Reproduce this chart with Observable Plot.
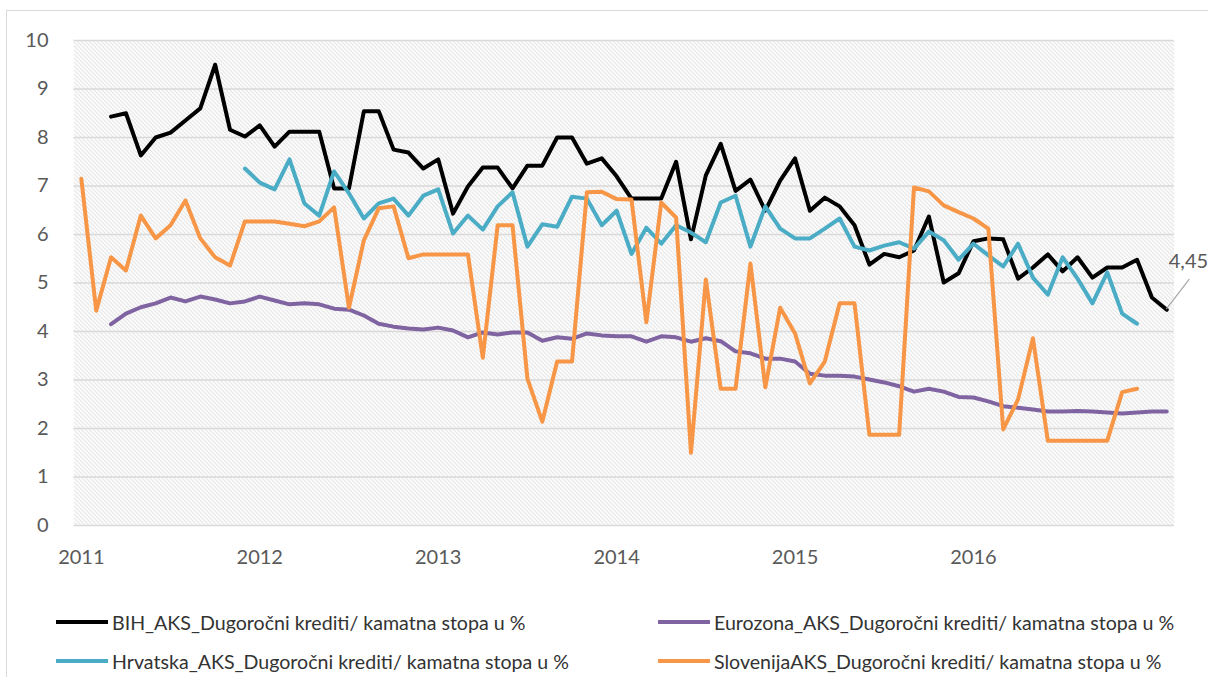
<!DOCTYPE html>
<html>
<head>
<meta charset="utf-8">
<script src="https://cdn.jsdelivr.net/npm/d3@7"></script>
<script src="https://cdn.jsdelivr.net/npm/@observablehq/plot@0.6"></script>
<style>
html, body { margin: 0; padding: 0; background: #fff; }
#wrap { position: relative; width: 1208px; height: 677px; overflow: hidden; font-family: Lato, sans-serif; }
#chart { position: absolute; left: 0; top: 0; }
#border { position: absolute; left: 6px; top: 10px; width: 1400px; height: 900px; border-left: 1px solid #d9d9d9; border-top: 1px solid #d9d9d9; pointer-events: none; }
.leg { position: absolute; height: 24px; display: flex; align-items: center; font-size: 19.6px; color: #333333; white-space: nowrap; }
.sw { width: 52px; height: 4px; margin-right: 4px; }
</style>
</head>
<body>
<div id="wrap">
  <div id="chart"></div>
  <div id="legend"></div>
  <div id="border"></div>
</div>
<script>
// ---- data ----
const startYear = 2011;                       // month index 0 = Jan 2011
const yearLabels = ["2011", "2012", "2013", "2014", "2015", "2016"];
const yTicks = [0, 1, 2, 3, 4, 5, 6, 7, 8, 9, 10];

const seriesNames = [
  "BIH_AKS_Dugoročni krediti/ kamatna stopa u %",
  "Eurozona_AKS_Dugoročni krediti/ kamatna stopa u %",
  "Hrvatska_AKS_Dugoročni krediti/ kamatna stopa u %",
  "SlovenijaAKS_Dugoročni krediti/ kamatna stopa u %"
];
const seriesColors = ["#000000", "#8064a2", "#4bacc6", "#f79646"];

const bih = [null, null, 8.43, 8.5, 7.63, 8.0, 8.1, 8.35, 8.6, 9.5, 8.16, 8.02, 8.25, 7.81, 8.12, 8.12, 8.12, 6.95, 6.95, 8.54, 8.54, 7.75, 7.69, 7.36, 7.55, 6.43, 6.99, 7.38, 7.38, 6.95, 7.42, 7.42, 8.0, 8.0, 7.46, 7.57, 7.2, 6.74, 6.74, 6.74, 7.5, 5.9, 7.22, 7.87, 6.9, 7.13, 6.49, 7.11, 7.57, 6.49, 6.76, 6.58, 6.19, 5.38, 5.6, 5.53, 5.67, 6.37, 5.01, 5.2, 5.86, 5.92, 5.9, 5.09, 5.32, 5.59, 5.24, 5.53, 5.11, 5.32, 5.32, 5.48, 4.7, 4.45];

const eurozona = [null, null, 4.15, 4.37, 4.5, 4.58, 4.7, 4.62, 4.72, 4.66, 4.58, 4.62, 4.72, 4.64, 4.56, 4.58, 4.56, 4.47, 4.45, 4.33, 4.16, 4.1, 4.06, 4.04, 4.08, 4.02, 3.88, 3.98, 3.94, 3.98, 3.98, 3.81, 3.88, 3.85, 3.96, 3.92, 3.9, 3.9, 3.79, 3.9, 3.88, 3.79, 3.86, 3.8, 3.59, 3.55, 3.44, 3.44, 3.38, 3.13, 3.09, 3.09, 3.07, 3.01, 2.95, 2.87, 2.76, 2.82, 2.76, 2.65, 2.64, 2.56, 2.46, 2.43, 2.39, 2.35, 2.35, 2.36, 2.35, 2.33, 2.31, 2.33, 2.35, 2.35];

const hrvatska = [null, null, null, null, null, null, null, null, null, null, null, 7.36, 7.07, 6.93, 7.55, 6.64, 6.39, 7.3, 6.85, 6.33, 6.64, 6.74, 6.39, 6.8, 6.93, 6.02, 6.39, 6.1, 6.58, 6.87, 5.75, 6.21, 6.16, 6.78, 6.74, 6.19, 6.49, 5.6, 6.14, 5.81, 6.19, 6.04, 5.84, 6.66, 6.8, 5.75, 6.58, 6.12, 5.92, 5.92, 6.12, 6.33, 5.75, 5.67, 5.77, 5.84, 5.71, 6.06, 5.88, 5.48, 5.81, 5.57, 5.34, 5.81, 5.11, 4.76, 5.53, 5.09, 4.58, 5.22, 4.37, 4.16];

const slovenija = [7.15, 4.43, 5.53, 5.26, 6.39, 5.92, 6.19, 6.7, 5.92, 5.53, 5.36, 6.27, 6.27, 6.27, 6.22, 6.17, 6.27, 6.56, 4.49, 5.88, 6.54, 6.58, 5.51, 5.59, 5.59, 5.59, 5.59, 3.46, 6.19, 6.19, 3.03, 2.14, 3.38, 3.38, 6.87, 6.88, 6.73, 6.72, 4.19, 6.66, 6.35, 1.5, 5.07, 2.82, 2.82, 5.4, 2.85, 4.49, 3.96, 2.93, 3.38, 4.58, 4.58, 1.87, 1.87, 1.87, 6.97, 6.89, 6.6, 6.46, 6.33, 6.12, 1.98, 2.6, 3.86, 1.75, 1.75, 1.75, 1.75, 1.75, 2.75, 2.82];

const lastLabel = "4,45";

// ---- build ----
const allSeries = [bih, eurozona, hrvatska, slovenija];
const data = [];
allSeries.forEach((vals, s) => vals.forEach((v, i) => data.push({series: seriesNames[s], month: i, value: v})));
const nMonths = d3.max(allSeries, a => a.length);
const tickMonths = yearLabels.map(y => (+y - startYear) * 12);
const lastIdx = bih.length - 1;

const chart = Plot.plot({
  width: 1208,
  height: 580,
  marginTop: 40,
  marginBottom: 55,
  marginLeft: 73.4,
  marginRight: 34.3,
  style: {fontFamily: "Lato, sans-serif", fontSize: "20px", color: "#595959", background: "transparent", overflow: "visible"},
  x: {domain: [-0.5, nMonths - 0.5], ticks: tickMonths, tickFormat: m => yearLabels[Math.round(m / 12)], tickSize: 0, tickPadding: 24, label: null},
  y: {domain: [0, 10], ticks: yTicks, tickSize: 0, tickPadding: 25.4, label: null},
  color: {domain: seriesNames, range: seriesColors},
  marks: [
    Plot.frame({fill: "url(#hatch)", stroke: null}),
    Plot.ruleY(yTicks, {stroke: "#d9d9d9", strokeWidth: 1.5}),
    Plot.line(data, {x: "month", y: "value", z: "series", stroke: "series", strokeWidth: 4, strokeLinejoin: "round", strokeLinecap: "round"}),
    Plot.text([{month: lastIdx, value: bih[lastIdx]}], {x: "month", y: "value", text: () => lastLabel, textAnchor: "start", dx: 2, dy: -48, fontSize: 20, fill: "#595959"})
  ]
});

// hatch pattern for plot area
d3.select(chart).insert("defs", ":first-child").html(
  '<pattern id="hatch" patternUnits="userSpaceOnUse" width="4" height="4">' +
  '<rect width="4" height="4" fill="#ffffff"/>' +
  '<path d="M-1,-1 L5,5 M-1,3 L1,5 M3,-1 L5,1" stroke="#d2d2d2" stroke-width="1"/>' +
  '</pattern>');

// leader line for the data label
const sx = chart.scale("x"), sy = chart.scale("y");
const px = sx.apply(lastIdx), py = sy.apply(bih[lastIdx]);
d3.select(chart).append("line")
  .attr("x1", px).attr("y1", py).attr("x2", px + 23).attr("y2", py - 30)
  .attr("stroke", "#a6a6a6").attr("stroke-width", 1.2);

document.getElementById("chart").appendChild(chart);

// legend
const legendPos = [[56, 622], [658, 622], [56, 661], [658, 661]];
const legend = document.getElementById("legend");
seriesNames.forEach((name, s) => {
  const item = document.createElement("div");
  item.className = "leg";
  item.style.left = legendPos[s][0] + "px";
  item.style.top = (legendPos[s][1] - 12) + "px";
  const sw = document.createElement("span");
  sw.className = "sw";
  sw.style.background = seriesColors[s];
  const tx = document.createElement("span");
  tx.textContent = name;
  item.appendChild(sw);
  item.appendChild(tx);
  legend.appendChild(item);
});
</script>
</body>
</html>
